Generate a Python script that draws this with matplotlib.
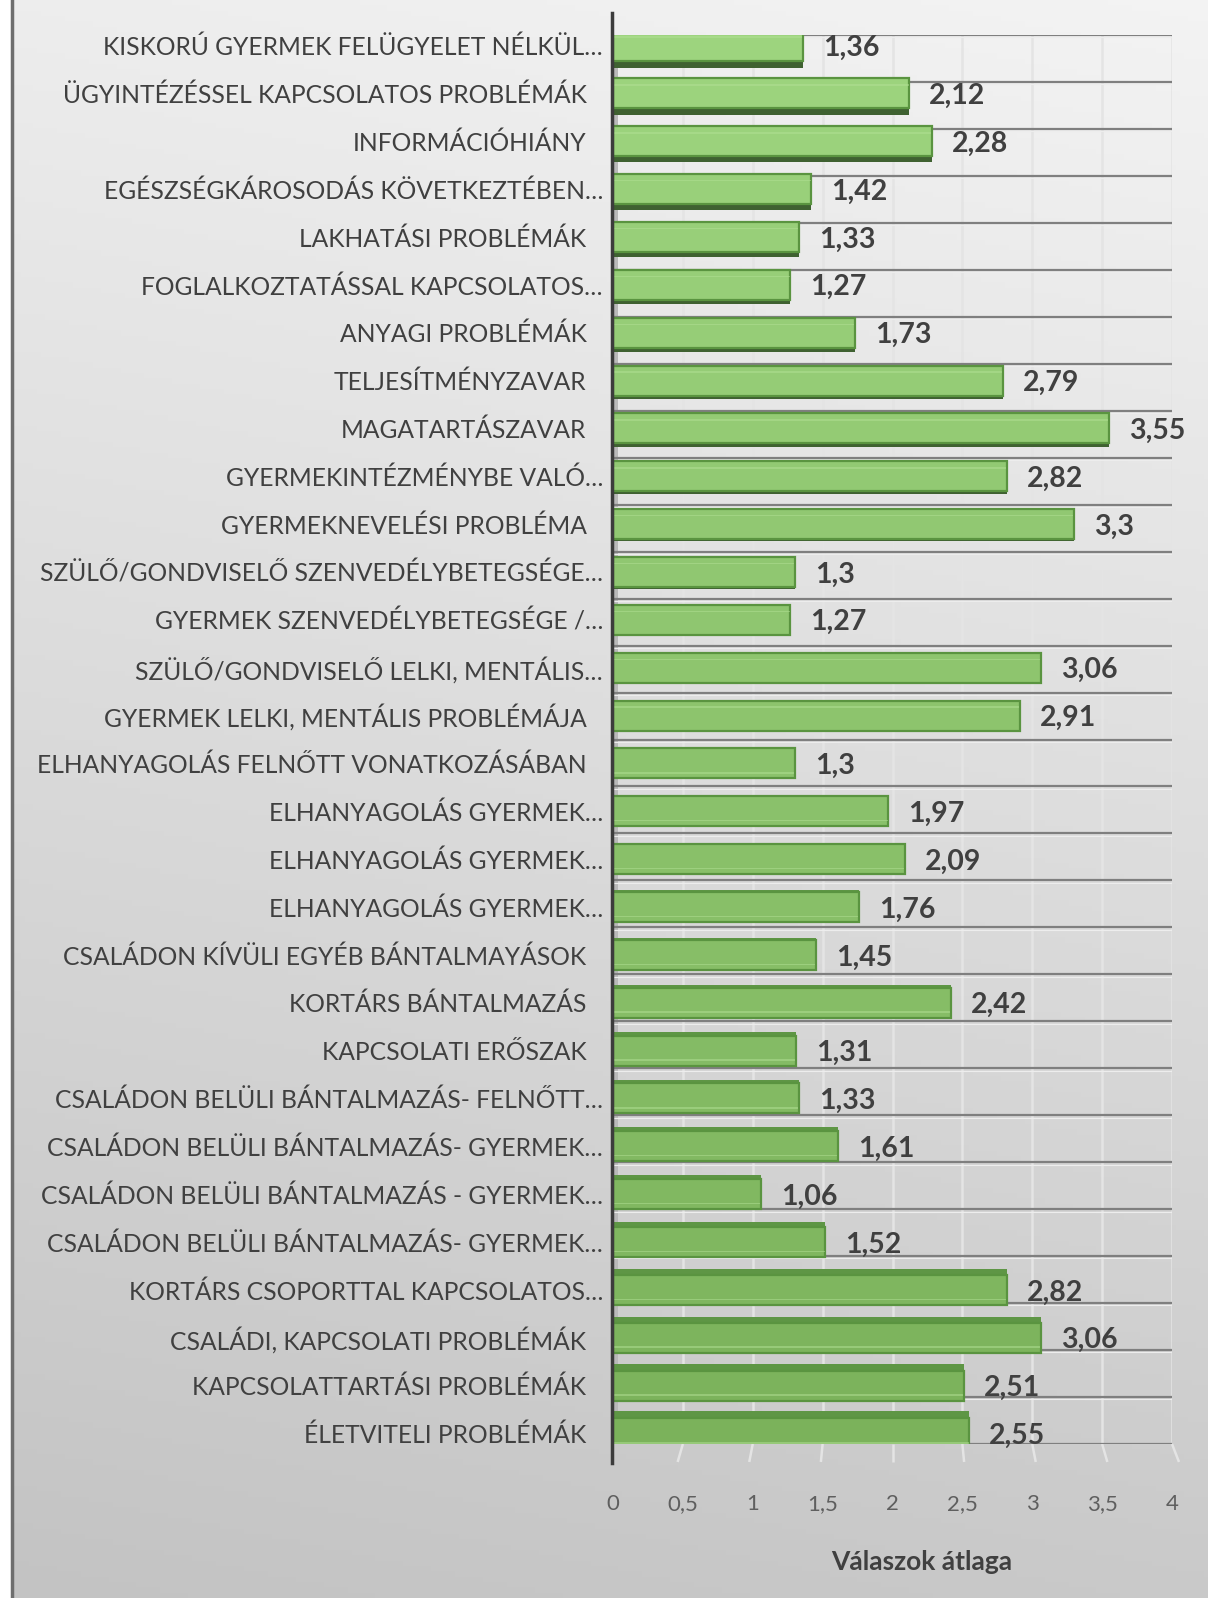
import numpy as np
import matplotlib
matplotlib.use("Agg")
import matplotlib.pyplot as plt
from matplotlib.lines import Line2D
import matplotlib.colors as mcolors

categories = [
    "KISKORÚ GYERMEK FELÜGYELET NÉLKÜL…",
    "ÜGYINTÉZÉSSEL KAPCSOLATOS PROBLÉMÁK",
    "INFORMÁCIÓHIÁNY",
    "EGÉSZSÉGKÁROSODÁS KÖVETKEZTÉBEN…",
    "LAKHATÁSI PROBLÉMÁK",
    "FOGLALKOZTATÁSSAL KAPCSOLATOS…",
    "ANYAGI PROBLÉMÁK",
    "TELJESÍTMÉNYZAVAR",
    "MAGATARTÁSZAVAR",
    "GYERMEKINTÉZMÉNYBE VALÓ…",
    "GYERMEKNEVELÉSI PROBLÉMA",
    "SZÜLŐ/GONDVISELŐ SZENVEDÉLYBETEGSÉGE…",
    "GYERMEK SZENVEDÉLYBETEGSÉGE /…",
    "SZÜLŐ/GONDVISELŐ LELKI, MENTÁLIS…",
    "GYERMEK LELKI, MENTÁLIS PROBLÉMÁJA",
    "ELHANYAGOLÁS FELNŐTT VONATKOZÁSÁBAN",
    "ELHANYAGOLÁS GYERMEK…",
    "ELHANYAGOLÁS GYERMEK…",
    "ELHANYAGOLÁS GYERMEK…",
    "CSALÁDON KÍVÜLI EGYÉB BÁNTALMAYÁSOK",
    "KORTÁRS BÁNTALMAZÁS",
    "KAPCSOLATI ERŐSZAK",
    "CSALÁDON BELÜLI BÁNTALMAZÁS- FELNŐTT…",
    "CSALÁDON BELÜLI BÁNTALMAZÁS- GYERMEK…",
    "CSALÁDON BELÜLI BÁNTALMAZÁS - GYERMEK…",
    "CSALÁDON BELÜLI BÁNTALMAZÁS- GYERMEK…",
    "KORTÁRS CSOPORTTAL KAPCSOLATOS…",
    "CSALÁDI, KAPCSOLATI PROBLÉMÁK",
    "KAPCSOLATTARTÁSI PROBLÉMÁK",
    "ÉLETVITELI PROBLÉMÁK",
]
values = [1.36, 2.12, 2.28, 1.42, 1.33, 1.27, 1.73, 2.79, 3.55, 2.82,
          3.3, 1.3, 1.27, 3.06, 2.91, 1.3, 1.97, 2.09, 1.76, 1.45,
          2.42, 1.31, 1.33, 1.61, 1.06, 1.52, 2.82, 3.06, 2.51, 2.55]
x_ticks = [0, 0.5, 1, 1.5, 2, 2.5, 3, 3.5, 4]
x_tick_labels = ["0", "0,5", "1", "1,5", "2", "2,5", "3", "3,5", "4"]
x_title = "Válaszok átlaga"

FONT = ["Lato", "DejaVu Sans"]
plt.rcParams["font.family"] = FONT

W, H = 1208, 1598
fig = plt.figure(figsize=(W / 100, H / 100), dpi=100)
fig.patch.set_facecolor("white")

# background gradient
bg = fig.add_axes([0, 0, 1, 1], zorder=-10)
bg.set_axis_off()
yy, xx = np.mgrid[0:1:300j, 0:1:300j]
val = 0.93 - 0.165 * yy + 0.025 * xx
img = np.dstack([val, val, val])
bg.imshow(img, extent=[13 / W, 1, 0, 1], aspect="auto", origin="upper")
bg.set_xlim(0, 1)
bg.set_ylim(0, 1)
fig.add_artist(Line2D([11.5 / W] * 2, [0, 1], color="#6e6e6e", lw=2.5))

# main axes
L, R = 613 / W, 1172 / W
T, B = 1 - 35 / H, 1 - 1444 / H
ax = fig.add_axes([L, B, R - L, T - B])
ax.set_facecolor("none")
n = len(categories)
ax.set_xlim(0, 4)
ax.set_ylim(n - 0.5, -0.5)
for s in ax.spines.values():
    s.set_visible(False)

# side wall hint
ax.axvspan(0, 5 / 139.75, color="#b9b9b9", zorder=0.6, lw=0)

# vertical gridlines (with small perspective floor segment)
for t in x_ticks[1:]:
    ax.plot([t, t], [-0.5, n - 0.5], color="#e4e4e4", lw=1.8, zorder=0.5,
            solid_capstyle="butt")
    ax.plot([t, t + (t - 2) * 0.025], [n - 0.5, n - 0.5 + 18 / 47],
            color="#e4e4e4", lw=1.8, zorder=0.5, clip_on=False,
            solid_capstyle="butt")

# horizontal gridlines at category boundaries
for b in np.arange(-0.5, n, 1.0):
    ax.plot([0, 4], [b, b], color="#7f7f7f", lw=1.6, zorder=1,
            solid_capstyle="butt")
    ax.plot([0, 4], [b + 0.05, b + 0.05], color="#ededed", lw=0.8, zorder=1,
            solid_capstyle="butt")

# bars with pseudo-3D perspective
idx = np.arange(n)
mid = (n - 1) / 2
d = idx - mid
centers = idx + 0.019 * d
h = 0.64
thick = 0.0103 * np.abs(d)

c_top = np.array(mcolors.to_rgb("#9dd47e"))
c_bot = np.array(mcolors.to_rgb("#7bb25b"))
face_cols = [tuple(c_top + (c_bot - c_top) * (i / (n - 1))) for i in idx]

vals = np.array(values)
upper = d < 0
strip_y = np.where(upper, centers + h / 2 + thick / 2, centers - h / 2 - thick / 2)
strip_cols = ["#3f6131" if u else "#5e9645" for u in upper]
ax.barh(strip_y, vals, height=thick, color=strip_cols, edgecolor="none", zorder=2.5)
ax.barh(centers, vals, height=h, color=face_cols, edgecolor="#5a9440",
        linewidth=1.6, zorder=3)
hl_y = np.where(upper, centers - h / 2 + 0.14, centers + h / 2 - 0.12)
ax.barh(hl_y, vals - 0.01, height=0.03, left=0.005, color="#b2e095",
        alpha=0.5, edgecolor="none", zorder=3.2)


def fmt(v):
    return f"{v:g}".replace(".", ",")


for i, (lab, v) in enumerate(zip(categories, values)):
    c = centers[i]
    xpad = -0.072 if lab.endswith("…") else -0.19
    ax.text(xpad, c, lab, ha="right", va="center_baseline", fontsize=17.7,
            color="#404040", clip_on=False, family=FONT)
    ax.text(v + 0.143, c, fmt(v), ha="left", va="center_baseline", fontsize=20.5,
            fontweight="bold", color="#404040", clip_on=False, family=FONT)

ax.set_yticks([])
ax.set_xticks(x_ticks)
ax.set_xticklabels(x_tick_labels, fontsize=16, color="#5f5f5f", family=FONT)
ax.tick_params(axis="x", length=0, pad=36)

fig.add_artist(Line2D([612 / W] * 2, [1 - 13 / H, 1 - 1463 / H],
                      color="#3c3c3c", lw=2.5))

fig.text(922 / W, 1 - 1562 / H, x_title, ha="center", va="center",
         fontsize=19, fontweight="bold", color="#404040", family=FONT)

fig.savefig("out.png", dpi=100)
